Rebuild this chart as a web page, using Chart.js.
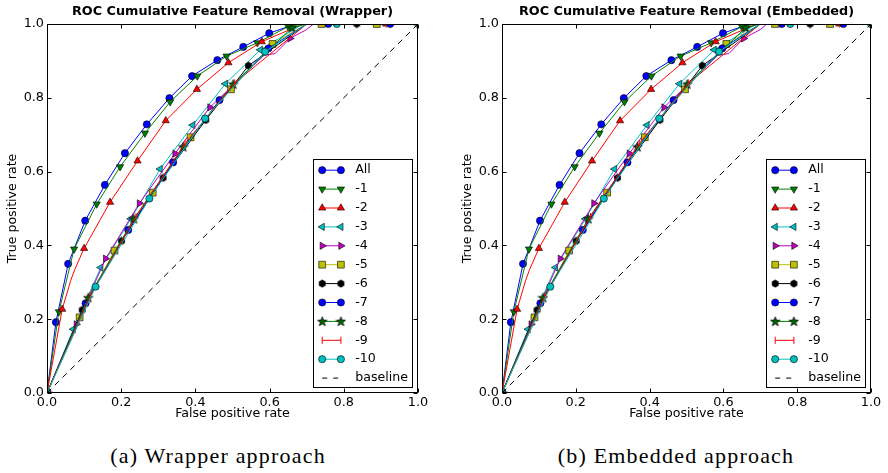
<!DOCTYPE html>
<html><head><meta charset="utf-8">
<script src="https://cdn.jsdelivr.net/npm/chart.js@4.4.1/dist/chart.umd.min.js"></script>
<style>
html,body{margin:0;padding:0;background:#fff;}
#wrap{position:relative;width:888px;height:473px;overflow:hidden;background:#fff;}
.pane{position:absolute;top:0;}
.pane canvas{display:block;}
.cap{position:absolute;top:443px;line-height:26px;font-family:"Liberation Serif",serif;font-size:22px;letter-spacing:1.2px;white-space:nowrap;transform:translateX(-50%);color:#000;}
</style></head>
<body><div id="wrap">
<div class="pane" style="left:0;width:440px;height:425px"><canvas id="c1" width="440" height="425"></canvas></div>
<div class="pane" style="left:455px;width:433px;height:425px"><canvas id="c2" width="433" height="425"></canvas></div>
<div class="cap" style="left:218px">(a) Wrapper approach</div>
<div class="cap" style="left:676px">(b) Embedded approach</div>
</div>
<script>
// ---------- data (false positive rate, true positive rate) ----------
const titles = ['ROC Cumulative Feature Removal (Wrapper)', 'ROC Cumulative Feature Removal (Embedded)'];
const axisTicks = [0, 0.2, 0.4, 0.6, 0.8, 1.0];
const seriesLabels = ['All','-1','-2','-3','-4','-5','-6','-7','-8','-9','-10'];

// marker points
const ptsAll = [[0,0],[0.024,0.192],[0.057,0.35],[0.103,0.467],[0.156,0.564],[0.21,0.65],[0.269,0.728],[0.33,0.799],[0.391,0.859],[0.459,0.902],[0.529,0.938],[0.599,0.975],[0.758,1]];
const pts1   = [[0,0],[0.032,0.22],[0.073,0.39],[0.134,0.512],[0.197,0.613],[0.264,0.704],[0.332,0.789],[0.405,0.859],[0.484,0.913],[0.567,0.949],[0.65,0.993]];
const pts2   = [[0,0],[0.041,0.227],[0.1,0.392],[0.17,0.517],[0.244,0.629],[0.32,0.738],[0.404,0.823],[0.489,0.895],[0.579,0.952],[0.914,1]];
const pts3   = [[0,0],[0.071,0.173],[0.145,0.34],[0.226,0.472],[0.305,0.607],[0.393,0.726],[0.481,0.838],[0.575,0.93]];
const pts4   = [[0,0],[0.079,0.186],[0.158,0.364],[0.249,0.514],[0.345,0.649],[0.439,0.774],[0.655,0.961]];
const pts5   = [[0,0],[0.088,0.205],[0.182,0.386],[0.285,0.543],[0.387,0.693],[0.496,0.823],[0.608,0.946],[0.74,1],[0.889,1]];
const pts6   = [[0,0],[0.095,0.225],[0.201,0.412],[0.313,0.583],[0.428,0.74],[0.543,0.887],[0.835,1]];
const pts7   = [[0,0],[0.104,0.243],[0.219,0.442],[0.34,0.625],[0.465,0.794],[0.597,0.934],[0.925,1]];
const pts8   = [[0,0],[0.111,0.258],[0.234,0.472],[0.367,0.667],[0.502,0.837],[0.66,0.99]];
const pts9   = [[0,0],[0.116,0.262],[0.24,0.478],[0.372,0.676],[0.506,0.84],[0.914,1]];
const pts10  = [[0,0],[0.131,0.288],[0.276,0.527],[0.426,0.744],[0.588,0.925],[0.781,1],[1,1]];
// extra curve points without markers
const bendAll = [[0.67,1],[1,1]];
const bend1   = [[0.69,1],[1,1]];
const bend2   = [[0.064,0.305],[0.075,0.335],[0.69,1],[1,1]];
const bend3   = [[0.69,1],[1,1]];
const bend4   = [[0.585,0.915],[0.615,0.92],[0.7,0.985],[0.718,1],[1,1]];
const bend5   = [[0.7,1],[1,1]];
const bend6   = [[0.7,1],[1,1]];
const bend7   = [[0.7,1],[1,1]];
const bend8   = [[0.7,1],[1,1]];
const bend9   = [[0.7,1],[1,1]];
const bend10  = [[0.7,1]];
const baselinePts = [[0,0],[1,1]];

const markerSets = [ptsAll,pts1,pts2,pts3,pts4,pts5,pts6,pts7,pts8,pts9,pts10];
const bendSets = [bendAll,bend1,bend2,bend3,bend4,bend5,bend6,bend7,bend8,bend9,bend10];

// ---------- styles ----------
function makeStar(){
  const c=document.createElement('canvas'); c.width=11; c.height=11;
  const g=c.getContext('2d'); g.beginPath();
  for(let i=0;i<10;i++){const r=i%2?2.1:5; const a=-Math.PI/2+i*Math.PI/5; g.lineTo(5.5+r*Math.cos(a),5.8+r*Math.sin(a));}
  g.closePath(); g.fillStyle='#006400'; g.fill(); g.lineWidth=0.7; g.strokeStyle='#000'; g.stroke(); return c;
}
function makeHex(){
  const c=document.createElement('canvas'); c.width=9; c.height=9;
  const g=c.getContext('2d'); g.beginPath();
  for(let i=0;i<6;i++){const a=-Math.PI/2+i*Math.PI/3; g.lineTo(4.5+3.9*Math.cos(a),4.5+3.9*Math.sin(a));}
  g.closePath(); g.fillStyle='#000'; g.fill(); return c;
}
const STAR=makeStar(), HEX=makeHex();
const sty = [
  {c:'#0000ff', s:'circle', rot:0, r:3.6},
  {c:'#008000', s:'triangle', rot:180, r:4.2},
  {c:'#ff0000', s:'triangle', rot:0, r:4.2},
  {c:'#00bfbf', s:'triangle', rot:-90, r:4.2},
  {c:'#bf00bf', s:'triangle', rot:90, r:4.2},
  {c:'#bfbf00', s:'rect', rot:0, r:4.8},
  {c:'#000000', s:HEX, rot:0, r:3.6},
  {c:'#0000ff', s:'circle', rot:0, r:3.6},
  {c:'#008000', s:STAR, rot:0, r:4},
  {c:'#ff0000', s:'line', rot:90, r:3.6, edge:'#ff0000', bw:1},
  {c:'#00bfbf', s:'circle', rot:0, r:3.6}
];

function buildData(i){
  const arr = markerSets[i].map(p=>({x:p[0],y:p[1],m:true})).concat(bendSets[i].map(p=>({x:p[0],y:p[1],m:false})));
  arr.sort((a,b)=>a.x-b.x || a.y-b.y);
  return arr;
}

const FONT = '"DejaVu Sans", Verdana, sans-serif';
const FS = 12.8;

const framePlugin = {
  id:'frameTicksLegend',
  afterDatasetsDraw(chart){
    const {ctx, chartArea:a, scales} = chart;
    ctx.save();
    ctx.strokeStyle='#000'; ctx.lineWidth=1;
    const L=Math.round(a.left)+0.5, R=Math.round(a.right)-0.5, T=Math.round(a.top)+0.5, B=Math.round(a.bottom)-0.5;
    ctx.strokeRect(L,T,R-L,B-T);
    ctx.beginPath();
    scales.x.ticks.forEach(t=>{const px=Math.round(scales.x.getPixelForValue(t.value))+0.5;
      ctx.moveTo(px,B); ctx.lineTo(px,B-4); ctx.moveTo(px,T); ctx.lineTo(px,T+4);});
    scales.y.ticks.forEach(t=>{const py=Math.round(scales.y.getPixelForValue(t.value))+0.5;
      ctx.moveTo(L,py); ctx.lineTo(L+4,py); ctx.moveTo(R,py); ctx.lineTo(R-4,py);});
    ctx.stroke();
    // legend
    const bw=99, bh=228;
    const bx=Math.round(a.right-6-bw)+0.5, by=Math.round(a.bottom-6-bh)+0.5;
    ctx.fillStyle='#fff'; ctx.fillRect(bx,by,bw,bh);
    ctx.strokeStyle='#000'; ctx.lineWidth=1; ctx.strokeRect(bx,by,bw,bh);
    const labels = seriesLabels.concat(['baseline']);
    ctx.font = '12.6px '+FONT; ctx.textBaseline='middle'; ctx.textAlign='left';
    labels.forEach((lab,i)=>{
      const y = by+10.7+i*18.9, x0=bx+8.7, x1=bx+27.4;
      if(i<sty.length){
        const s=sty[i];
        ctx.strokeStyle=s.c; ctx.lineWidth=1; ctx.setLineDash([]);
        ctx.beginPath(); ctx.moveTo(x0,y); ctx.lineTo(x1,y); ctx.stroke();
        [x0,x1].forEach(x=>{
          ctx.fillStyle=s.c; ctx.strokeStyle=s.edge||'#000'; ctx.lineWidth=s.bw||0.6;
          Chart.helpers.drawPoint(ctx,{pointStyle:s.s,rotation:s.rot,radius:s.r,borderWidth:s.bw||0.6},x,y);
        });
      } else {
        ctx.strokeStyle='#000'; ctx.lineWidth=1; ctx.setLineDash([5,6]);
        ctx.beginPath(); ctx.moveTo(x0,y); ctx.lineTo(x1+2,y); ctx.stroke(); ctx.setLineDash([]);
      }
      ctx.fillStyle='#000'; ctx.fillText(lab, bx+41.7, y);
    });
    ctx.restore();
  }
};

function makeChart(id, title, padRight){
  const datasets = seriesLabels.map((lab,i)=>{
    const s=sty[i];
    return {
      label:lab, data:buildData(i), showLine:true, borderColor:s.c, borderWidth:1, tension:0,
      pointStyle:s.s, pointRotation:s.rot,
      pointRadius: ctx => (ctx.raw && ctx.raw.m) ? s.r : 0,
      pointBackgroundColor:s.c, pointBorderColor:s.edge||'#000', pointBorderWidth:s.bw||0.6,
      order: 100-i
    };
  });
  datasets.push({label:'baseline', data:baselinePts.map(p=>({x:p[0],y:p[1]})), showLine:true,
    borderColor:'#000', borderWidth:1, borderDash:[6,5], pointRadius:0, order:0});
  return new Chart(document.getElementById(id), {
    type:'scatter',
    data:{datasets},
    options:{
      responsive:false, animation:false, events:[],
      layout:{padding:{left:0,right:padRight,top:0,bottom:0}},
      plugins:{
        legend:{display:false}, tooltip:{enabled:false},
        title:{display:true, text:title, fullSize:false, color:'#000',
          font:{family:FONT,size:FS,weight:'bold',lineHeight:1.2}, padding:{top:4,bottom:4.64}}
      },
      scales:{
        x:{type:'linear', min:0, max:1,
          afterBuildTicks: sc => { sc.ticks = axisTicks.map(v=>({value:v})); },
          ticks:{color:'#000', padding:2, font:{family:FONT,size:FS}, callback:v=>v.toFixed(1), maxRotation:0, autoSkip:false},
          grid:{display:false, drawTicks:false}, border:{display:false},
          title:{display:true, text:'False positive rate', color:'#000', font:{family:FONT,size:12.6}, padding:{top:0,bottom:3.4}},
          afterFit: sc => { sc.height = 32; }
        },
        y:{type:'linear', min:0, max:1,
          afterBuildTicks: sc => { sc.ticks = axisTicks.map(v=>({value:v})); },
          ticks:{color:'#000', padding:3, font:{family:FONT,size:FS}, callback:v=>v.toFixed(1), autoSkip:false},
          grid:{display:false, drawTicks:false}, border:{display:false},
          title:{display:true, text:'True positive rate', color:'#000', font:{family:FONT,size:12.6}, padding:{top:5,bottom:0}},
          afterFit: sc => { sc.width = 47; }
        }
      }
    },
    plugins:[framePlugin]
  });
}
makeChart('c1', titles[0], 22);
makeChart('c2', titles[1], 17);
</script>
</body></html>
